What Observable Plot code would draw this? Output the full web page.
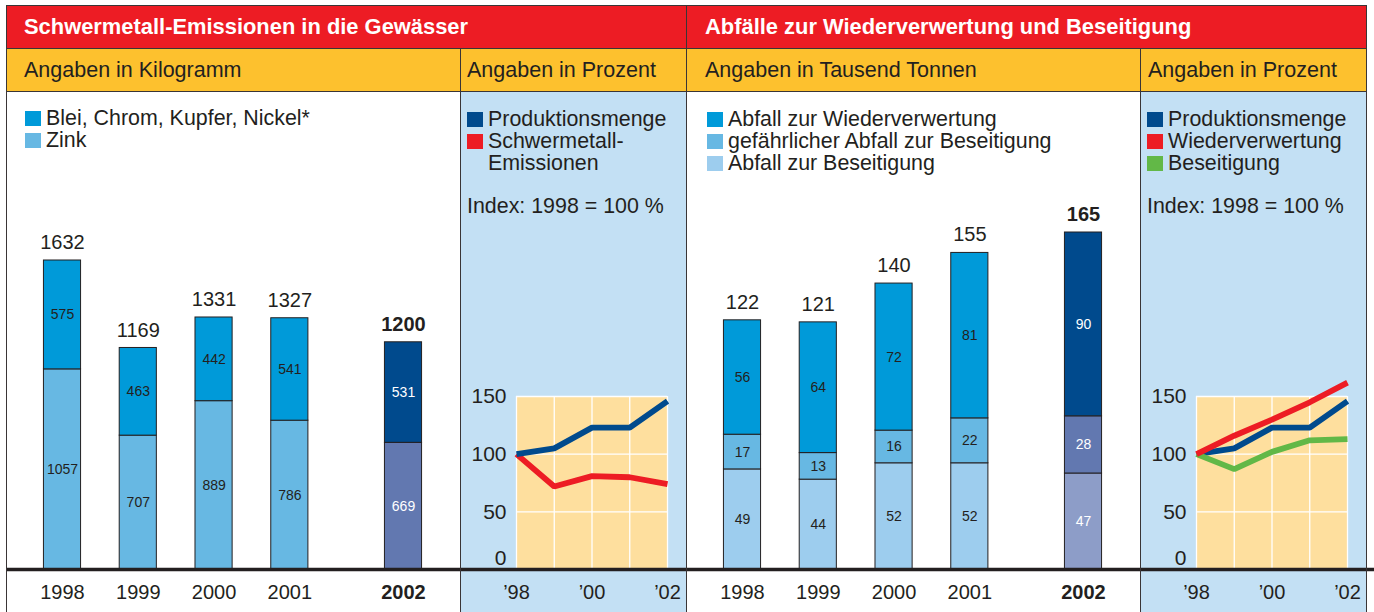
<!DOCTYPE html>
<html>
<head>
<meta charset="utf-8">
<script src="https://cdn.jsdelivr.net/npm/d3@7"></script>
<script src="https://cdn.jsdelivr.net/npm/@observablehq/plot@0.6"></script>
<style>
  body { margin: 0; background: #fff; }
  #root { position: relative; width: 1374px; height: 612px; overflow: hidden;
          font-family: "Liberation Sans", Arial, Helvetica, sans-serif; color: #231f20; }
  .abs { position: absolute; box-sizing: border-box; }
  .title { color: #fff; font-weight: bold; font-size: 21.9px; line-height: 43px; white-space: nowrap; }
  .sub { font-size: 21.5px; line-height: 44px; white-space: nowrap; }
  .legend { font-size: 21.4px; line-height: 22px; white-space: nowrap; }
  .row { display: flex; align-items: center; height: 22px; }
  .sw { width: 16px; height: 15px; margin-right: 5px; flex: none; }
  .indent { padding-left: 21px; }
  .plot { position: absolute; top: 92px; }
  .plot svg { overflow: visible; }
</style>
</head>
<body>
<div id="root"></div>
<script>
// ---------------- data ----------------
const years = ["1998", "1999", "2000", "2001", "2002"];
// Schwermetall-Emissionen in die Gewässer (kg)
const metalOther = [575, 463, 442, 541, 531];      // Blei, Chrom, Kupfer, Nickel*
const metalZinc = [1057, 707, 889, 786, 669];       // Zink
const metalTotal = [1632, 1169, 1331, 1327, 1200];
// Index 1998 = 100 % (left)
const idxYears = [1998, 1999, 2000, 2001, 2002];
const idxProduction = [100, 105, 123, 123, 146];
const idxEmission = [100, 72, 81, 80, 74];
// Abfälle (Tausend Tonnen)
const wasteRecycling = [56, 64, 72, 81, 90];        // Abfall zur Wiederverwertung
const wasteHazardous = [17, 13, 16, 22, 28];        // gefährlicher Abfall zur Beseitigung
const wasteDisposal = [49, 44, 52, 52, 47];         // Abfall zur Beseitigung
const wasteTotal = [122, 121, 140, 155, 165];
// Index 1998 = 100 % (right)
const idxRecycling = [100, 116, 130, 145, 162];
const idxDisposal = [100, 87, 102, 112, 113];
// axis ticks
const idxTicks = [0, 50, 100, 150];
const idxLabelYears = [1998, 2000, 2002];
const idxLabels = ["’98", "’00", "’02"];

// ---------------- styles ----------------
const FONT = '"Liberation Sans", Arial, Helvetica, sans-serif';
const INK = "#231f20";
const RED = "#ed1c24";
const YELLOW = "#fdc12e";
const PANEL_BLUE = "#c3e0f4";
const PLOT_BG = "#fedf9e";
const NAVY = "#004a8d";
const GREEN = "#62b847";
const C_TOP = "#009ad9", C_MID = "#67b8e3", C_LOW = "#9dcdee";
const H_TOP = "#004a8d", H_MID = "#6278b0", H_LOW = "#8d9dc8";

const root = document.getElementById("root");
function box(css, html = "", cls = "abs") {
  const d = document.createElement("div");
  d.className = cls;
  d.style.cssText = css;
  d.innerHTML = html;
  root.appendChild(d);
  return d;
}

// backgrounds
box(`left:6px;top:5px;width:1360px;height:43px;background:${RED}`);
box(`left:6px;top:48px;width:1360px;height:44px;background:${YELLOW}`);
box(`left:460px;top:92px;width:226px;height:520px;background:${PANEL_BLUE}`);
box(`left:1140px;top:92px;width:226px;height:520px;background:${PANEL_BLUE}`);

// header texts
box(`left:24px;top:5px`, "Schwermetall-Emissionen in die Gewässer", "abs title");
box(`left:705px;top:5px`, "Abfälle zur Wiederverwertung und Beseitigung", "abs title");
box(`left:24px;top:48px`, "Angaben in Kilogramm", "abs sub");
box(`left:467px;top:48px`, "Angaben in Prozent", "abs sub");
box(`left:705px;top:48px`, "Angaben in Tausend Tonnen", "abs sub");
box(`left:1148px;top:48px`, "Angaben in Prozent", "abs sub");

// legends
function legend(left, top, items) {
  const html = items.map(([c, t]) =>
    c ? `<div class="row"><span class="sw" style="background:${c}"></span><span>${t}</span></div>`
      : `<div class="row indent"><span>${t}</span></div>`).join("");
  box(`left:${left}px;top:${top}px`, html, "abs legend");
}
legend(25, 107, [[C_TOP, "Blei, Chrom, Kupfer, Nickel*"], [C_MID, "Zink"]]);
legend(467, 108, [[NAVY, "Produktionsmenge"], [RED, "Schwermetall-"], [null, "Emissionen"]]);
legend(707, 108, [[C_TOP, "Abfall zur Wiederverwertung"], [C_MID, "gefährlicher Abfall zur Beseitigung"], [C_LOW, "Abfall zur Beseitigung"]]);
legend(1147, 108, [[NAVY, "Produktionsmenge"], [RED, "Wiederverwertung"], [GREEN, "Beseitigung"]]);
box(`left:467px;top:195px`, "Index: 1998 = 100 %", "abs legend");
box(`left:1147px;top:195px`, "Index: 1998 = 100 %", "abs legend");

// ---------------- charts ----------------
const slot = i => (i < years.length - 1 ? i : i + 0.5); // highlighted last year set apart
const HL = years.length - 1;

function stackedBars(left, layers, normalColors, hiColors, totals, yMax, yTopPx) {
  const rows = [];
  years.forEach((yr, i) => {
    let cum = 0;
    layers.forEach((arr, k) => {
      const v = arr[i];
      rows.push({ i, s: slot(i), y1: cum, y2: cum + v, v, hl: i === HL,
                  fill: i === HL ? hiColors[k] : normalColors[k] });
      cum += v;
    });
  });
  const cats = years.map((yr, i) => ({ yr, i, s: slot(i), total: totals[i], hl: i === HL }));
  const hw = 0.245;
  const chart = Plot.plot({
    width: 454, height: 520, margin: 0,
    x: { type: "linear", domain: [0, slot(HL)], range: [56, 397], axis: null },
    y: { domain: [0, yMax], range: [477, yTopPx], axis: null },
    color: { type: "identity" },
    style: { background: "transparent", fontFamily: FONT, overflow: "visible" },
    marks: [
      Plot.rect(rows, { x1: d => d.s - hw, x2: d => d.s + hw, y1: "y1", y2: "y2",
                        fill: "fill", stroke: INK, strokeWidth: 1 }),
      Plot.text(rows, { x: "s", y: d => (d.y1 + d.y2) / 2, text: d => String(d.v),
                        fill: d => (d.hl ? "#ffffff" : INK), fontSize: 14, fontFamily: FONT }),
      Plot.text(cats, { filter: d => !d.hl, x: "s", y: "total", dy: -18, text: d => String(d.total),
                        fill: INK, fontSize: 20, fontFamily: FONT }),
      Plot.text(cats, { filter: d => d.hl, x: "s", y: "total", dy: -18, text: d => String(d.total),
                        fill: INK, fontSize: 20, fontWeight: "bold", fontFamily: FONT }),
      Plot.text(cats, { filter: d => !d.hl, x: "s", y: 0, dy: 23, text: "yr",
                        fill: INK, fontSize: 20, fontFamily: FONT }),
      Plot.text(cats, { filter: d => d.hl, x: "s", y: 0, dy: 23, text: "yr",
                        fill: INK, fontSize: 20, fontWeight: "bold", fontFamily: FONT }),
      Plot.ruleY([0], { stroke: INK, strokeWidth: 3.5 })
    ]
  });
  const wrap = document.createElement("div");
  wrap.className = "plot";
  wrap.style.left = left + "px";
  wrap.appendChild(chart);
  root.appendChild(wrap);
}

function indexLines(left, width, series) {
  const data = [];
  series.forEach(({ values, color }) =>
    idxYears.forEach((yr, i) => data.push({ yr, v: values[i], color })));
  const x0 = idxYears[0], x1 = idxYears[idxYears.length - 1];
  const yMax = idxTicks[idxTicks.length - 1];
  const chart = Plot.plot({
    width, height: 520, margin: 0,
    x: { type: "linear", domain: [x0, x1], range: [56, 207], axis: null },
    y: { domain: [0, yMax], range: [477, 304], axis: null },
    color: { type: "identity" },
    style: { background: "transparent", fontFamily: FONT, overflow: "visible" },
    marks: [
      Plot.rect([null], { x1: x0, x2: x1, y1: 0, y2: yMax, fill: PLOT_BG }),
      Plot.ruleX(idxYears, { y1: 0, y2: yMax, stroke: "#ffffff", strokeWidth: 1.3 }),
      Plot.ruleY(idxTicks.filter(t => t > 0), { x1: x0, x2: x1, stroke: "#ffffff", strokeWidth: 1.3 }),
      Plot.line(data, { x: "yr", y: "v", z: "color", stroke: "color", strokeWidth: 5.8,
                        strokeLinecap: "butt", strokeLinejoin: "miter" }),
      Plot.ruleY([0], { stroke: INK, strokeWidth: 3.5 }),
      Plot.text(idxTicks.filter(t => t > 0), { x: x0, y: d => d, dx: -10, textAnchor: "end",
                        text: d => String(d), fill: INK, fontSize: 21, fontFamily: FONT }),
      Plot.text(idxTicks.filter(t => t === 0), { x: x0, y: d => d, dx: -10, dy: -11, textAnchor: "end",
                        text: d => String(d), fill: INK, fontSize: 21, fontFamily: FONT }),
      Plot.text(idxLabelYears, { x: d => d, y: 0, dy: 23, text: (d, i) => idxLabels[i],
                        fill: INK, fontSize: 20, fontFamily: FONT })
    ]
  });
  const wrap = document.createElement("div");
  wrap.className = "plot";
  wrap.style.left = left + "px";
  wrap.appendChild(chart);
  root.appendChild(wrap);
}

stackedBars(6, [metalZinc, metalOther], [C_MID, C_TOP], [H_MID, H_TOP], metalTotal, 1632, 168);
indexLines(460, 226, [
  { values: idxEmission, color: RED },
  { values: idxProduction, color: NAVY }
]);
stackedBars(686, [wasteDisposal, wasteHazardous, wasteRecycling], [C_LOW, C_MID, C_TOP],
            [H_LOW, H_MID, H_TOP], wasteTotal, 165, 140);
indexLines(1140, 234, [
  { values: idxProduction, color: NAVY },
  { values: idxDisposal, color: GREEN },
  { values: idxRecycling, color: RED }
]);

// frame lines (on top)
const L = "#3a3536";
box(`left:6px;top:5px;width:1361px;height:1px;background:${L}`);
box(`left:6px;top:48px;width:1361px;height:1px;background:${L}`);
box(`left:6px;top:91px;width:1361px;height:1px;background:${L}`);
box(`left:6px;top:5px;width:1px;height:607px;background:${L}`);
box(`left:686px;top:5px;width:1px;height:607px;background:${L}`);
box(`left:1366px;top:5px;width:1px;height:607px;background:${L}`);
box(`left:460px;top:48px;width:1px;height:564px;background:${L}`);
box(`left:1140px;top:48px;width:1px;height:564px;background:${L}`);
</script>
</body>
</html>
